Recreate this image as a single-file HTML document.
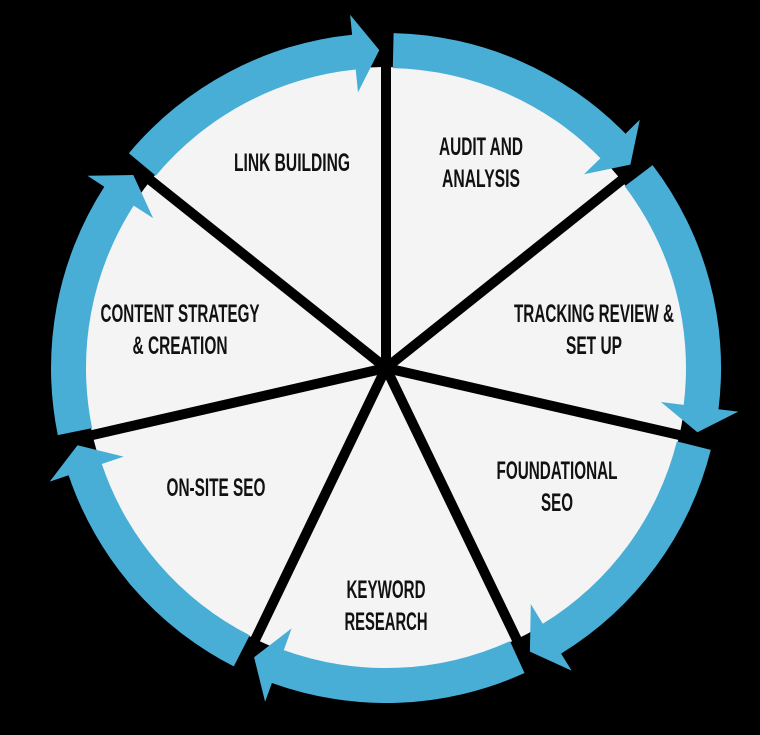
<!DOCTYPE html>
<html><head><meta charset="utf-8"><style>
html,body{margin:0;padding:0;background:#000;}
svg{display:block}
text{font-family:"Liberation Sans",sans-serif;font-weight:bold;font-size:25px;fill:#111;}
</style></head><body>
<svg id="s" width="760" height="735" viewBox="0 0 760 735" xmlns="http://www.w3.org/2000/svg">
<rect width="760" height="735" fill="#000"/>
<circle cx="386" cy="368" r="301" fill="#f4f4f4"/>
<g id="spokes"></g>
<g id="blue" fill="#48aed6"></g>
<g text-anchor="middle">
<text x="292" y="171" textLength="116" lengthAdjust="spacingAndGlyphs">LINK BUILDING</text>
<text x="481" y="155" textLength="84" lengthAdjust="spacingAndGlyphs">AUDIT AND</text>
<text x="481" y="187" textLength="78" lengthAdjust="spacingAndGlyphs">ANALYSIS</text>
<text x="594" y="322" textLength="160" lengthAdjust="spacingAndGlyphs">TRACKING REVIEW &amp;</text>
<text x="594" y="354" textLength="56" lengthAdjust="spacingAndGlyphs">SET UP</text>
<text x="557" y="479" textLength="121" lengthAdjust="spacingAndGlyphs">FOUNDATIONAL</text>
<text x="557" y="511" textLength="32" lengthAdjust="spacingAndGlyphs">SEO</text>
<text x="386" y="598" textLength="79" lengthAdjust="spacingAndGlyphs">KEYWORD</text>
<text x="386" y="630" textLength="83" lengthAdjust="spacingAndGlyphs">RESEARCH</text>
<text x="216" y="496" textLength="99" lengthAdjust="spacingAndGlyphs">ON-SITE SEO</text>
<text x="180" y="322" textLength="159" lengthAdjust="spacingAndGlyphs">CONTENT STRATEGY</text>
<text x="180" y="354" textLength="95" lengthAdjust="spacingAndGlyphs">&amp; CREATION</text>
</g>
</svg>
<script>
var cx=386,cy=368,NS="http://www.w3.org/2000/svg";
function pt(a,r){var t=a*Math.PI/180;return [cx+r*Math.sin(t),cy-r*Math.cos(t)];}
function f(p){return p[0].toFixed(1)+","+p[1].toFixed(1);}
var sp=document.getElementById("spokes"),bl=document.getElementById("blue");
var step=360/7,ri=300,ro=335;
for(var k=0;k<7;k++){
  var a=k*step;
  var l=document.createElementNS(NS,"line");
  var e=pt(a,334);
  l.setAttribute("x1",cx);l.setAttribute("y1",cy);l.setAttribute("x2",e[0]);l.setAttribute("y2",e[1]);
  l.setAttribute("stroke","#000");l.setAttribute("stroke-width","10");
  sp.appendChild(l);
  var a0=a+1.3,a1=a+step-5.8,at=a+step-1.2;
  var d="M"+f(pt(a0,ri))+" L"+f(pt(a0,ro))+" A"+ro+","+ro+" 0 0 1 "+f(pt(a1,ro))+
        " L"+f(pt(a1,355))+" L"+f(pt(at,318))+" L"+f(pt(a1,277))+" L"+f(pt(a1,ri))+
        " A"+ri+","+ri+" 0 0 0 "+f(pt(a0,ri))+" Z";
  var p=document.createElementNS(NS,"path");p.setAttribute("d",d);bl.appendChild(p);
}
</script>
</body></html>
